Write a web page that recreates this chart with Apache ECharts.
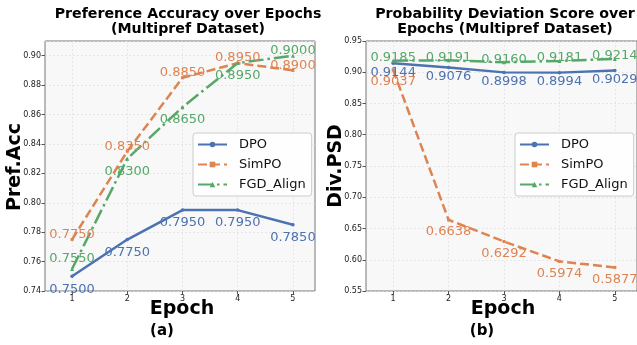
<!DOCTYPE html>
<html><head><meta charset="utf-8">
<script src="https://cdn.jsdelivr.net/npm/echarts@6/dist/echarts.min.js"></script>
<style>html,body{margin:0;padding:0;background:#fff}#c{width:637px;height:345px}</style>
</head><body><div id="c"></div>
<script>
// ---- data ----
const epochs = [1, 2, 3, 4, 5];
const seriesNames = ['DPO', 'SimPO', 'FGD_Align'];
const accDPO   = [0.7500, 0.7750, 0.7950, 0.7950, 0.7850];
const accSimPO = [0.7750, 0.8350, 0.8850, 0.8950, 0.8900];
const accFGD   = [0.7550, 0.8300, 0.8650, 0.8950, 0.9000];
const psdDPO   = [0.9144, 0.9076, 0.8998, 0.8994, 0.9029];
const psdSimPO = [0.9037, 0.6638, 0.6292, 0.5974, 0.5877];
const psdFGD   = [0.9185, 0.9191, 0.9160, 0.9181, 0.9214];
const xTickLabels = ['1', '2', '3', '4', '5'];

// ---- styling (label vertical offsets in px) ----
const accDy = [[13,13,13,13,13], [-5,-5,-5,-5,-5], [-10,13,12,13,-5]];
const psdDy = [[9,9,9,9,9], [12,12,12,12,12], [-3,-3,-3,-3,-3]];
const colors = ['#4C72B0', '#DD8452', '#55A868'];
const FONT = 'DejaVu Sans';
const lineTypes = ['solid', [9, 4], [15, 4, 2.5, 4]];
const symbols = ['circle', 'rect', 'triangle'];
const symSizes = [3.5, 3, 4];
const gridLine = { color: '#dedede', type: [2, 2], width: 0.7 };

function mkSeries(vals, idx, gi, dys) {
  return {
    type: 'line', name: seriesNames[idx], xAxisIndex: gi, yAxisIndex: gi,
    data: epochs.map((e, i) => ({
      value: [e, vals[i]],
      label: { offset: [0, dys[i]] }
    })),
    symbol: symbols[idx], symbolSize: symSizes[idx], showSymbol: true,
    lineStyle: { color: colors[idx], width: 2.5, type: lineTypes[idx] },
    itemStyle: { color: colors[idx] },
    label: {
      show: true, position: 'inside', color: colors[idx],
      fontFamily: FONT, fontSize: 13,
      formatter: p => p.value[1].toFixed(4)
    },
    animation: false, z: 3
  };
}

function xAx(gi) {
  return {
    type: 'value', gridIndex: gi, min: 0.51, max: 5.4,
    axisLine: { show: false },
    axisTick: { show: true, length: 3.5, customValues: epochs, lineStyle: { color: '#555' } },
    axisLabel: { customValues: epochs, formatter: v => xTickLabels[epochs.indexOf(v)], fontFamily: FONT, fontSize: 8, color: '#222', margin: 4 },
    splitLine: { show: true, lineStyle: gridLine }
  };
}
function yAx(gi, min, max, step, showMax) {
  return {
    type: 'value', gridIndex: gi, min: min, max: max, interval: step,
    axisLine: { show: false },
    axisTick: { show: true, length: 3.5, lineStyle: { color: '#555' } },
    axisLabel: { formatter: v => v.toFixed(2), fontFamily: FONT, fontSize: 8, color: '#222', margin: 4, showMaxLabel: showMax },
    splitLine: { show: true, lineStyle: gridLine }
  };
}

function legend(left) {
  return {
    data: seriesNames, orient: 'vertical', left: left, top: 133,
    padding: [5, 6, 5, 4], itemGap: 7, itemWidth: 29, itemHeight: 7,
    backgroundColor: 'rgba(255,255,255,0.85)', borderColor: '#cccccc', borderWidth: 1, borderRadius: 3,
    textStyle: { fontFamily: FONT, fontSize: 13, color: '#111', padding: [0, 0, 0, 7] }
  };
}

const chart = echarts.init(document.getElementById('c'), null, { renderer: 'canvas' });
chart.setOption({
  animation: false,
  backgroundColor: '#fff',
  title: [
    { text: 'Preference Accuracy over Epochs\n(Multipref Dataset)', left: 183, top: 2, textAlign: 'center',
      textStyle: { fontFamily: FONT, fontWeight: 'bold', fontSize: 14.2, lineHeight: 15, color: '#000' } },
    { text: 'Probability Deviation Score over\nEpochs (Multipref Dataset)', left: 500, top: 2, textAlign: 'center',
      textStyle: { fontFamily: FONT, fontWeight: 'bold', fontSize: 14.2, lineHeight: 15, color: '#000' } }
  ],
  grid: [
    { left: 45, top: 41, width: 270, height: 250, show: true, backgroundColor: '#f8f8f8', borderColor: '#777', borderWidth: 1 },
    { left: 366, top: 41, width: 272, height: 250, show: true, backgroundColor: '#f8f8f8', borderColor: '#777', borderWidth: 1 }
  ],
  xAxis: [xAx(0), xAx(1)],
  yAxis: [yAx(0, 0.74, 0.91, 0.02, false), yAx(1, 0.55, 0.95, 0.05, true)],
  legend: [legend(193), legend(515)],
  series: [
    mkSeries(accDPO, 0, 0, accDy[0]), mkSeries(accSimPO, 1, 0, accDy[1]), mkSeries(accFGD, 2, 0, accDy[2]),
    mkSeries(psdDPO, 0, 1, psdDy[0]), mkSeries(psdSimPO, 1, 1, psdDy[1]), mkSeries(psdFGD, 2, 1, psdDy[2])
  ],
  graphic: [
    { type: 'text', x: 15, y: 167, rotation: Math.PI / 2, style: { text: 'Pref.Acc', font: 'bold 19px "DejaVu Sans"', fill: '#000', align: 'center', verticalAlign: 'middle' } },
    { type: 'text', x: 336, y: 166, rotation: Math.PI / 2, style: { text: 'Div.PSD', font: 'bold 19px "DejaVu Sans"', fill: '#000', align: 'center', verticalAlign: 'middle' } },
    { type: 'text', x: 182, y: 309, style: { text: 'Epoch', font: 'bold 19px "DejaVu Sans"', fill: '#000', align: 'center', verticalAlign: 'middle' } },
    { type: 'text', x: 503, y: 309, style: { text: 'Epoch', font: 'bold 19px "DejaVu Sans"', fill: '#000', align: 'center', verticalAlign: 'middle' } },
    { type: 'text', x: 162, y: 331, style: { text: '(a)', font: 'bold 15px "DejaVu Sans"', fill: '#000', align: 'center', verticalAlign: 'middle' } },
    { type: 'text', x: 482, y: 331, style: { text: '(b)', font: 'bold 15px "DejaVu Sans"', fill: '#000', align: 'center', verticalAlign: 'middle' } }
  ]
});
</script>
</body></html>
